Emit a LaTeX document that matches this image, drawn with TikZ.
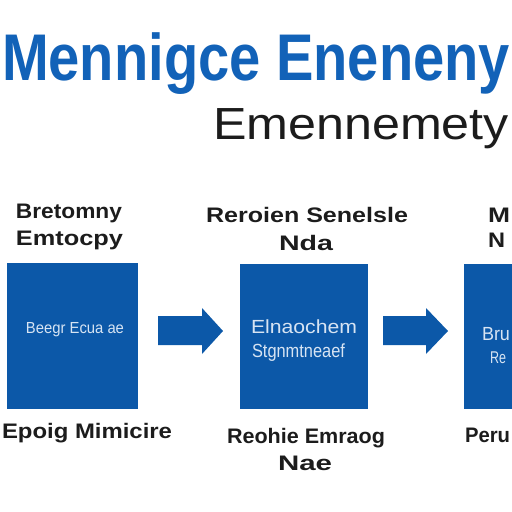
\documentclass[tikz,border=0pt]{standalone}
\usepackage{fontspec}
\setmainfont{Liberation Sans}
\usepackage{graphicx}
\definecolor{titleblue}{RGB}{18,98,184}
\definecolor{boxblue}{RGB}{12,88,168}
\definecolor{inktext}{RGB}{28,28,28}
\definecolor{paletext}{RGB}{215,228,243}
\newcommand\fitw[2]{\resizebox{#1}{\height}{#2}}
\newcommand\fsz[1]{\fontsize{#1}{#1}\selectfont}
\begin{document}
\begin{tikzpicture}[x=1pt,y=1pt,
  txt/.style={anchor=base west,inner sep=0pt,outer sep=0pt},
  lbl/.style={txt,text=inktext,font=\fsz{21}\bfseries},
  inner/.style={txt,text=paletext},
  blockbox/.style={fill=boxblue,draw=none,inner sep=0pt,anchor=north west},
  blockarrow/.style={fill=boxblue,draw=none}]
\useasboundingbox (0,0) rectangle (512,-512);
\fill[white] (0,0) rectangle (512,-512);
\clip (0,0) rectangle (512,-512);

% title and subtitle
\node[txt,text=titleblue] (title) at (2,-80) {\fitw{508pt}{\fsz{66}\bfseries Mennigce Eneneny}};
\node[txt,text=inktext] (subtitle) at (213,-139) {\fitw{296pt}{\fsz{45}Emennemety}};

% boxes
\node[blockbox,minimum width=131pt,minimum height=146pt] (box1) at (7,-263) {};
\node[blockbox,minimum width=128pt,minimum height=145pt] (box2) at (240,-264) {};
\node[blockbox,minimum width=60pt,minimum height=145pt] (box3) at (464,-264) {};

% block arrows
\fill[blockarrow] (158,-316) -- (202,-316) -- (202,-308) -- (223,-331) -- (202,-354) -- (202,-345) -- (158,-345) -- cycle;
\fill[blockarrow] (383,-316) -- (426,-316) -- (426,-308) -- (448,-331) -- (426,-354) -- (426,-345) -- (383,-345) -- cycle;

% labels above
\node[lbl] (a1) at (16,-218) {\fitw{106pt}{Bretomny}};
\node[lbl] (a2) at (16,-245) {\fitw{107pt}{Emtocpy}};
\node[lbl] (b1) at (206,-222) {\fitw{202pt}{Reroien Senelsle}};
\node[lbl] (b2) at (279,-250) {\fitw{54pt}{Nda}};
\node[lbl] (c1) at (488,-222) {\fitw{22pt}{M}};
\node[lbl] (c2) at (488,-247) {\fitw{17pt}{N}};

% labels below
\node[lbl] (d1) at (2,-438) {\fitw{170pt}{Epoig Mimicire}};
\node[lbl] (e1) at (227,-443) {\fitw{158pt}{Reohie Emraog}};
\node[lbl] (e2) at (278,-470) {\fitw{54pt}{Nae}};
\node[lbl] (f1) at (465,-442) {\fitw{45pt}{Peru}};

% inner texts
\node[inner] (i1) at (26,-333) {\fitw{98pt}{\fsz{16}Beegr Ecua ae}};
\node[inner] (i2) at (251,-333) {\fitw{106pt}{\fsz{19}Elnaochem}};
\node[inner] (i3) at (252,-357) {\fitw{93pt}{\fsz{19}Stgnmtneaef}};
\node[inner] (i4) at (482,-340) {\fitw{28pt}{\fsz{19}Bru}};
\node[inner] (i5) at (490,-363) {\fitw{16pt}{\fsz{17}Re}};
\end{tikzpicture}
\end{document}
